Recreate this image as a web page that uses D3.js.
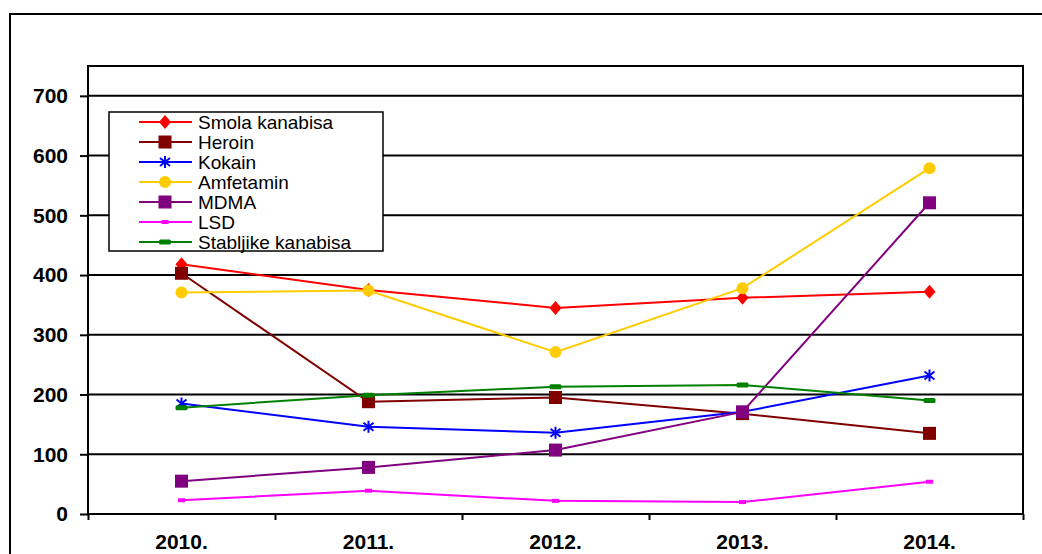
<!DOCTYPE html>
<html>
<head>
<meta charset="utf-8">
<script src="https://cdn.jsdelivr.net/npm/d3@7"></script>
<style>
    body { margin: 0; background: #fff; }
    svg { display: block; font-family: "Liberation Sans", Arial, sans-serif; }
</style>
</head>
<body>
<svg id="drawing_region"></svg>
<script>
const years = ['2010.', '2011.', '2012.', '2013.', '2014.'];
const yTicks = [0, 100, 200, 300, 400, 500, 600, 700];

const seriesNames = ['Smola kanabisa', 'Heroin', 'Kokain', 'Amfetamin', 'MDMA', 'LSD', 'Stabljike kanabisa'];
const smola = [418, 375, 345, 362, 372];
const heroin = [403, 188, 195, 168, 135];
const kokain = [185, 146, 136, 171, 232];
const amfetamin = [371, 374, 271, 378, 579];
const mdma = [55, 78, 107, 171, 521];
const lsd = [23, 39, 22, 20, 54];
const stabljike = [178, 199, 213, 216, 190];

const colors = ['#ff0000', '#800000', '#0000ff', '#ffcc00', '#800080', '#ff00ff', '#008000'];
const markers = ['diamond', 'square', 'star', 'circle', 'square', 'dash', 'bar'];

let config = {
    parent: '#drawing_region',
    width: 1042,
    height: 554,
    margin: {top: 66, right: 19, bottom: 40, left: 88},
};

let series = seriesNames.map((name, i) => ({
    name: name,
    values: [smola, heroin, kokain, amfetamin, mdma, lsd, stabljike][i],
    color: colors[i],
    marker: markers[i]
}));

class LineChart {

    constructor(config, data) {
        this.config = config;
        this.data = data;
        this.init();
    }

    init() {
        let self = this;

        self.svg = d3.select(self.config.parent)
            .attr('width', self.config.width)
            .attr('height', self.config.height);

        // outer chart frame, runs off the right and bottom edge like the picture
        self.svg.append('rect')
            .attr('x', 10).attr('y', 14)
            .attr('width', 1100).attr('height', 600)
            .attr('fill', '#fff')
            .attr('stroke', '#000')
            .attr('stroke-width', 2);

        self.chart = self.svg.append('g')
            .attr('transform', `translate(${self.config.margin.left}, ${self.config.margin.top})`);

        self.inner_width = self.config.width - self.config.margin.left - self.config.margin.right;
        self.inner_height = 514 - self.config.margin.top;

        self.xscale = d3.scaleBand()
            .domain(years)
            .range([0, self.inner_width])
            .padding(0);

        self.xedge = d3.scaleLinear()
            .domain([0, years.length])
            .range([0, self.inner_width]);

        self.yscale = d3.scaleLinear()
            .domain([0, 750])
            .range([self.inner_height, 0]);
    }

    render() {
        let self = this;
        let w = self.inner_width, h = self.inner_height;

        // grid
        self.chart.append('g')
            .selectAll('line')
            .data(yTicks.slice(1))
            .join('line')
            .attr('x1', 0).attr('x2', w)
            .attr('y1', d => self.yscale(d)).attr('y2', d => self.yscale(d))
            .attr('stroke', '#000')
            .attr('stroke-width', 2);

        self.chart.append('rect')
            .attr('width', w).attr('height', h)
            .attr('fill', 'none')
            .attr('stroke', '#000')
            .attr('stroke-width', 2);

        // axes
        let yaxis = self.chart.append('g')
            .call(d3.axisLeft(self.yscale).tickValues(yTicks).tickSize(8).tickPadding(12));
        yaxis.select('.domain').remove();
        yaxis.selectAll('line').attr('stroke-width', 2);
        yaxis.selectAll('text')
            .attr('font-size', '21px')
            .attr('font-weight', 'bold')
            .attr('font-family', '"Liberation Sans", Arial, sans-serif')
            .attr('fill', '#000');

        let xticks = self.chart.append('g')
            .attr('transform', `translate(0, ${h})`)
            .call(d3.axisBottom(self.xedge).tickValues(d3.range(years.length + 1)).tickSize(6).tickFormat(''));
        xticks.select('.domain').remove();
        xticks.selectAll('line').attr('stroke-width', 2);

        let xaxis = self.chart.append('g')
            .attr('transform', `translate(0, ${h})`)
            .call(d3.axisBottom(self.xscale).tickSize(0).tickPadding(20));
        xaxis.select('.domain').remove();
        xaxis.selectAll('text')
            .attr('font-size', '21px')
            .attr('font-weight', 'bold')
            .attr('font-family', '"Liberation Sans", Arial, sans-serif')
            .attr('fill', '#000');

        // lines
        let line = d3.line()
            .x((d, i) => self.xscale(years[i]) + self.xscale.bandwidth() / 2)
            .y(d => self.yscale(d));

        let groups = self.chart.selectAll('.series')
            .data(self.data)
            .join('g')
            .attr('class', 'series');

        groups.append('path')
            .attr('d', d => line(d.values))
            .attr('fill', 'none')
            .attr('stroke', d => d.color)
            .attr('stroke-width', 2);

        groups.each(function(s) {
            let g = d3.select(this);
            s.values.forEach((v, i) => {
                let x = self.xscale(years[i]) + self.xscale.bandwidth() / 2;
                drawMarker(g, s.marker, s.color, x, self.yscale(v));
            });
        });

        // legend
        let legend = self.svg.append('g')
            .attr('transform', 'translate(109, 112)');
        legend.append('rect')
            .attr('width', 274).attr('height', 139)
            .attr('fill', '#fff')
            .attr('stroke', '#000')
            .attr('stroke-width', 1.5);

        let items = legend.selectAll('.item')
            .data(self.data)
            .join('g')
            .attr('class', 'item')
            .attr('transform', (d, i) => `translate(0, ${10 + i * 20})`);

        items.append('line')
            .attr('x1', 30).attr('x2', 83)
            .attr('stroke', d => d.color)
            .attr('stroke-width', 2);
        items.each(function(d) {
            drawMarker(d3.select(this), d.marker, d.color, 56, 0);
        });
        items.append('text')
            .attr('x', 89)
            .attr('dy', '0.36em')
            .attr('font-size', '19px')
            .attr('fill', '#000')
            .text(d => d.name);
    }
}

function drawMarker(g, type, color, x, y) {
    if (type === 'diamond') {
        g.append('path')
            .attr('d', `M${x},${y - 7}L${x + 6},${y}L${x},${y + 7}L${x - 6},${y}Z`)
            .attr('fill', color);
    } else if (type === 'square') {
        g.append('rect')
            .attr('x', x - 6.5).attr('y', y - 6.5)
            .attr('width', 13).attr('height', 13)
            .attr('fill', color);
    } else if (type === 'circle') {
        g.append('circle')
            .attr('cx', x).attr('cy', y).attr('r', 6)
            .attr('fill', color);
    } else if (type === 'star') {
        g.append('path')
            .attr('d', `M${x},${y - 6}L${x},${y + 6}M${x - 5},${y - 4}L${x + 5},${y + 4}M${x - 5},${y + 4}L${x + 5},${y - 4}`)
            .attr('stroke', color)
            .attr('stroke-width', 2)
            .attr('fill', 'none');
    } else if (type === 'dash') {
        g.append('rect')
            .attr('x', x - 3.5).attr('y', y - 2)
            .attr('width', 7).attr('height', 4)
            .attr('fill', color);
    } else if (type === 'bar') {
        g.append('rect')
            .attr('x', x - 6).attr('y', y - 2.5)
            .attr('width', 12).attr('height', 5)
            .attr('rx', 1.5)
            .attr('fill', color);
    }
}

let line_chart = new LineChart(config, series);
line_chart.render();
</script>
</body>
</html>
